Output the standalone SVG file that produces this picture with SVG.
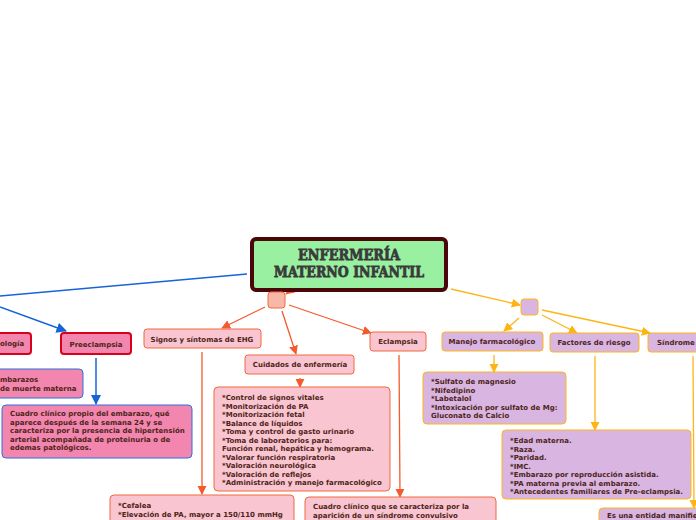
<svg xmlns="http://www.w3.org/2000/svg" width="696" height="520" viewBox="0 0 696 520">
<defs>
<style>
.t{font-family:"DejaVu Sans","Liberation Sans",sans-serif;font-weight:bold;font-size:7px;fill:#4e2418}
.c{text-anchor:middle}
.pk{fill:#F286AE;stroke:#D8001A;stroke-width:2}
.pkb{fill:#F286AE;stroke:#2F6FE0;stroke-width:1}
.lp{fill:#F9C5D0;stroke:#F2683E;stroke-width:1}
.lv{fill:#D9B5E2;stroke:#FDB515;stroke-width:1}
.bl{stroke:#1565D8;stroke-width:1.5;fill:none}
.or{stroke:#F55A2C;stroke-width:1.3;fill:none}
.ye{stroke:#FDB515;stroke-width:1.3;fill:none}
.title{font-family:"DejaVu Serif","Liberation Serif",serif;font-weight:bold;font-size:15px;fill:#3a3a3a;text-anchor:middle;stroke:#3a3a3a;stroke-width:0.8}
</style>
<marker id="ab" viewBox="0 0 10 10" refX="9" refY="5" markerWidth="7" markerHeight="7" orient="auto"><path d="M0,0L10,5L0,10z" fill="#1565D8"/></marker>
<marker id="ao" viewBox="0 0 10 10" refX="9" refY="5" markerWidth="7" markerHeight="7" orient="auto"><path d="M0,0L10,5L0,10z" fill="#F55A2C"/></marker>
<marker id="ay" viewBox="0 0 10 10" refX="9" refY="5" markerWidth="7" markerHeight="7" orient="auto"><path d="M0,0L10,5L0,10z" fill="#FDB515"/></marker>
</defs>
<rect width="696" height="520" fill="#fff"/>
<g id="connectors">
<path class="bl" d="M247,274L0,296"/>
<path class="bl" d="M0,307L66,331" marker-end="url(#ab)"/>
<path class="bl" d="M96,358L96,404" marker-end="url(#ab)"/>
<path class="or" d="M291,290L286,294" marker-end="url(#ao)"/>
<path class="or" d="M265,307L222,328" marker-end="url(#ao)"/>
<path class="or" d="M282,311L296,354" marker-end="url(#ao)"/>
<path class="or" d="M289,305L371,333" marker-end="url(#ao)"/>
<path class="or" d="M202,352L202,494" marker-end="url(#ao)"/>
<path class="or" d="M300,378L300,387" marker-end="url(#ao)"/>
<path class="or" d="M399,355L400,497" marker-end="url(#ao)"/>
<path class="ye" d="M451,289L520,305" marker-end="url(#ay)"/>
<path class="ye" d="M519,318L504,331" marker-end="url(#ay)"/>
<path class="ye" d="M542,315L577,333" marker-end="url(#ay)"/>
<path class="ye" d="M542,310L650,333" marker-end="url(#ay)"/>
<path class="ye" d="M494,355L494,372" marker-end="url(#ay)"/>
<path class="ye" d="M595,356L595,430" marker-end="url(#ay)"/>
<path class="ye" d="M693,356L694,508" marker-end="url(#ay)"/>
</g>
<g id="central">
<rect x="252" y="239" width="194" height="51" rx="4" fill="#98F0A0" stroke="#4A0608" stroke-width="4"/>
<text class="title" x="349" y="260" textLength="102" lengthAdjust="spacingAndGlyphs">ENFERMERÍA</text>
<text class="title" x="349" y="277" textLength="150" lengthAdjust="spacingAndGlyphs">MATERNO INFANTIL</text>
</g>
<g id="fisiopatologia">
<rect class="pk" x="-10" y="333" width="41" height="21" rx="3"/>
<text class="t" x="0" y="346">ología</text>
</g>
<g id="preeclampsia">
<rect class="pk" x="61" y="333" width="70" height="21" rx="3"/>
<text class="t c" x="96" y="347">Preeclampsia</text>
</g>
<g id="embarazos">
<rect class="pkb" x="-10" y="369" width="93" height="29" rx="4"/>
<text class="t" x="0" y="382">mbarazos</text>
<text class="t" x="0" y="391">de muerte materna</text>
</g>
<g id="preeclampsia-def">
<rect class="pkb" x="2" y="405" width="190" height="53" rx="4"/>
<text class="t" x="10" y="416">Cuadro clínico propio del embarazo, qué</text>
<text class="t" x="10" y="424.5">aparece después de la semana 24 y se</text>
<text class="t" x="10" y="433">caracteriza por la presencia de hipertensión</text>
<text class="t" x="10" y="441.5">arterial acompañada de proteinuria o de</text>
<text class="t" x="10" y="450">edemas patológicos.</text>
</g>
<g id="hub-orange">
<rect x="268" y="292" width="17" height="16" rx="3" fill="#F8B8A8" stroke="#F2683E" stroke-width="1"/>
</g>
<g id="signos">
<rect class="lp" x="144" y="329" width="117" height="19" rx="3"/>
<text class="t c" x="202" y="342">Signos y síntomas de EHG</text>
</g>
<g id="cuidados">
<rect class="lp" x="245" y="355" width="109" height="19" rx="3"/>
<text class="t c" x="300" y="367">Cuidados de enfermería</text>
</g>
<g id="eclampsia">
<rect class="lp" x="370" y="332" width="56" height="19" rx="3"/>
<text class="t c" x="398" y="344">Eclampsia</text>
</g>
<g id="signos-det">
<rect class="lp" x="110" y="495" width="184" height="40" rx="4"/>
<text class="t" x="118" y="508">*Cefalea</text>
<text class="t" x="118" y="517">*Elevación de PA, mayor a 150/110 mmHg</text>
</g>
<g id="cuidados-det">
<rect class="lp" x="214" y="387" width="176" height="104" rx="4"/>
<text class="t" x="222" y="400">*Control de signos vitales</text>
<text class="t" x="222" y="408.5">*Monitorización de PA</text>
<text class="t" x="222" y="417">*Monitorización fetal</text>
<text class="t" x="222" y="425.5">*Balance de líquidos</text>
<text class="t" x="222" y="434">*Toma y control de gasto urinario</text>
<text class="t" x="222" y="442.5">*Toma de laboratorios para:</text>
<text class="t" x="222" y="451">Función renal, hepática y hemograma.</text>
<text class="t" x="222" y="459.5">*Valorar función respiratoria</text>
<text class="t" x="222" y="468">*Valoración neurológica</text>
<text class="t" x="222" y="476.5">*Valoración de reflejos</text>
<text class="t" x="222" y="485">*Administración y manejo farmacológico</text>
</g>
<g id="eclampsia-det">
<rect class="lp" x="305" y="497" width="191" height="40" rx="4"/>
<text class="t" x="313" y="509">Cuadro clínico que se caracteriza por la</text>
<text class="t" x="313" y="518">aparición de un síndrome convulsivo</text>
</g>
<g id="hub-yellow">
<rect x="521" y="299" width="17" height="16" rx="3" fill="#D9B5E2" stroke="#FDB515" stroke-width="1"/>
</g>
<g id="manejo">
<rect class="lv" x="442" y="332" width="101" height="19" rx="3"/>
<text class="t c" x="492" y="344">Manejo farmacológico</text>
</g>
<g id="factores">
<rect class="lv" x="550" y="333" width="89" height="19" rx="3"/>
<text class="t c" x="594" y="345">Factores de riesgo</text>
</g>
<g id="sindrome">
<rect class="lv" x="648" y="333" width="60" height="19" rx="3"/>
<text class="t" x="657" y="345">Síndrome</text>
</g>
<g id="manejo-det">
<rect class="lv" x="423" y="372" width="143" height="52" rx="4"/>
<text class="t" x="431" y="384">*Sulfato de magnesio</text>
<text class="t" x="431" y="392.5">*Nifedipino</text>
<text class="t" x="431" y="401">*Labetalol</text>
<text class="t" x="431" y="409.5">*Intoxicación por sulfato de Mg:</text>
<text class="t" x="431" y="418">Gluconato de Calcio</text>
</g>
<g id="factores-det">
<rect class="lv" x="502" y="430" width="189" height="69" rx="4"/>
<text class="t" x="510" y="443">*Edad materna.</text>
<text class="t" x="510" y="451.5">*Raza.</text>
<text class="t" x="510" y="460">*Paridad.</text>
<text class="t" x="510" y="468.5">*IMC.</text>
<text class="t" x="510" y="477">*Embarazo por reproducción asistida.</text>
<text class="t" x="510" y="485.5">*PA materna previa al embarazo.</text>
<text class="t" x="510" y="494">*Antecedentes familiares de Pre-eclampsia.</text>
</g>
<g id="sindrome-det">
<rect class="lv" x="599" y="508" width="110" height="30" rx="4"/>
<text class="t" x="607" y="518">Es una entidad manifie</text>
</g>
</svg>
